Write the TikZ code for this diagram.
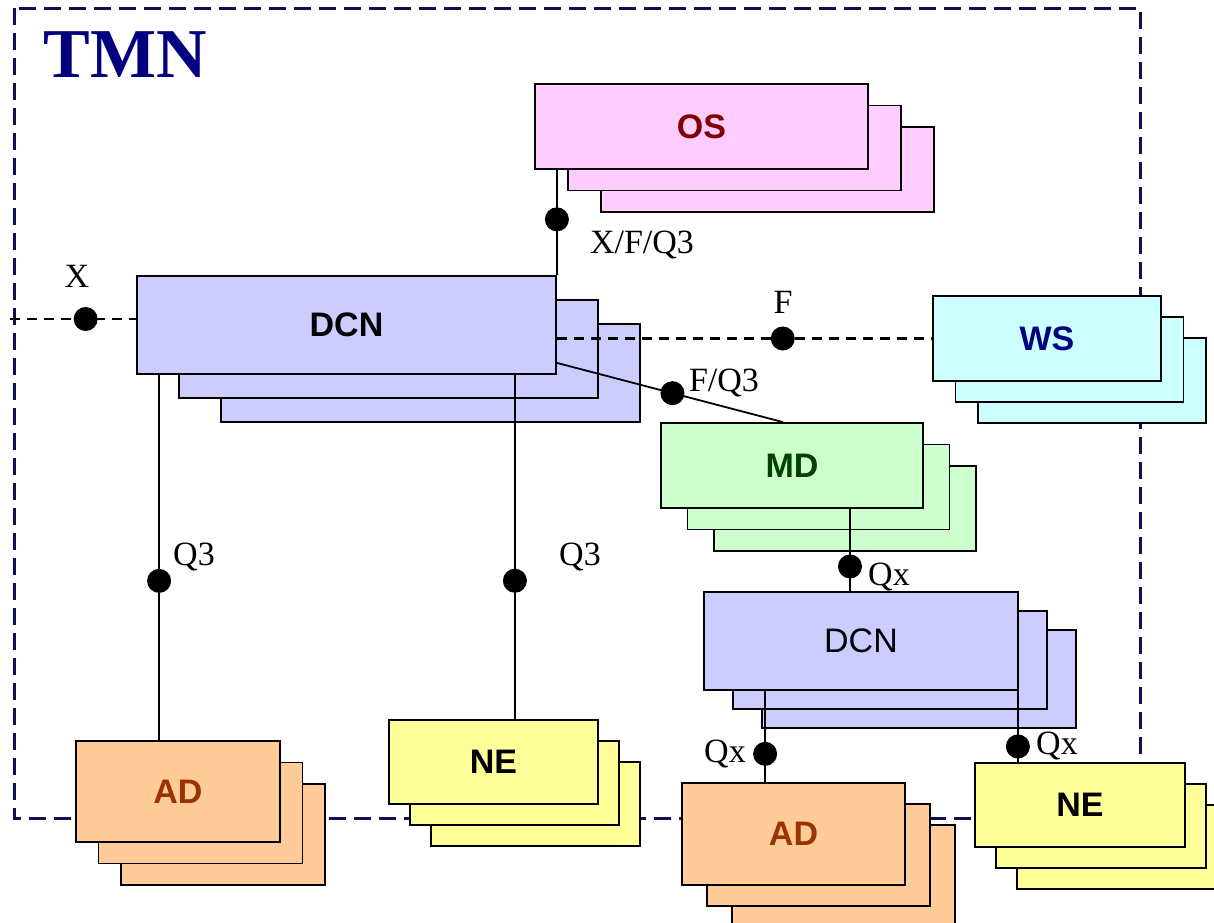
\documentclass[tikz,border=0pt]{standalone}
\usepackage{fontspec}
\setmainfont{Liberation Serif}
\setsansfont{Liberation Sans}
\usetikzlibrary{positioning}

\definecolor{framenavy}{RGB}{16,16,80}
\definecolor{tmnnavy}{RGB}{0,0,128}
\definecolor{osfill}{RGB}{255,204,255}
\definecolor{ostext}{RGB}{128,0,0}
\definecolor{dcnfill}{RGB}{204,204,255}
\definecolor{wsfill}{RGB}{204,255,255}
\definecolor{wstext}{RGB}{0,0,128}
\definecolor{mdfill}{RGB}{204,255,204}
\definecolor{mdtext}{RGB}{0,64,0}
\definecolor{adfill}{RGB}{255,204,153}
\definecolor{adtext}{RGB}{153,51,0}
\definecolor{nefill}{RGB}{255,255,153}

\begin{document}
\begin{tikzpicture}[
  x=1pt, y=-1pt,
  card/.style n args={3}{draw, line width=1.8pt, inner sep=0pt, fill=#1,
    minimum width=#2, minimum height=#3,
    font=\sffamily\bfseries\fontsize{34}{38}\selectfont},
  lbl/.style={inner sep=0pt, font=\fontsize{34}{36}\selectfont},
  dot/.style={circle, fill=black, inner sep=0pt, minimum size=24pt},
  link/.style={line width=1.8pt},
  dashlink/.style={line width=2.4pt, dash pattern=on 10pt off 7pt},
  frame/.style={draw=framenavy, line width=3pt, dash pattern=on 17pt off 8pt}
]
\useasboundingbox (0,0) rectangle (1214,922);

% TMN domain
\draw[frame] (14,8) rectangle (1140,818);
\node[text=tmnnavy, font=\bfseries\fontsize{70}{72}\selectfont] (tmn) at (125,55) {TMN};

% OS stack
\node[card={osfill}{333}{85}] (os3) at (767.5,169.5) {};
\node[card={osfill}{333}{85}] (os2) at (734.5,148) {};
\node[card={osfill}{333}{85}, text=ostext] (os) at (701.5,126.5) {OS};

% DCN stack
\node[card={dcnfill}{419}{98}] (dcn3) at (430.5,373) {};
\node[card={dcnfill}{419}{98}] (dcn2) at (388.5,349) {};
\node[card={dcnfill}{419}{98}] (dcn) at (346.5,325) {DCN};

% WS stack
\node[card={wsfill}{228}{85}] (ws3) at (1092,380.5) {};
\node[card={wsfill}{228}{85}] (ws2) at (1069.5,359.5) {};
\node[card={wsfill}{228}{85}, text=wstext] (ws) at (1047,338.5) {WS};

% MD stack
\node[card={mdfill}{262}{85}] (md3) at (845,508.5) {};
\node[card={mdfill}{262}{85}] (md2) at (818.5,487) {};
\node[card={mdfill}{262}{85}, text=mdtext] (md) at (792,465.5) {MD};

% local DCN stack
\node[card={dcnfill}{314}{98}] (ldcn3) at (919,679) {};
\node[card={dcnfill}{314}{98}] (ldcn2) at (890,660) {};
\node[card={dcnfill}{314}{98}, font=\sffamily\fontsize{34}{38}\selectfont] (ldcn) at (861,641) {DCN};

% AD / NE stacks
\node[card={adfill}{204}{101}] (ad3) at (223,834.5) {};
\node[card={adfill}{204}{101}] (ad2) at (200.5,813) {};
\node[card={adfill}{204}{101}, text=adtext] (ad) at (178,791.5) {AD};

\node[card={nefill}{209}{84}] (ne3) at (535.5,804) {};
\node[card={nefill}{209}{84}] (ne2) at (514.5,783) {};
\node[card={nefill}{209}{84}] (ne) at (493.5,762) {NE};

\node[card={adfill}{223}{102}] (lad3) at (843.5,876) {};
\node[card={adfill}{223}{102}] (lad2) at (818.5,855) {};
\node[card={adfill}{223}{102}, text=adtext] (lad) at (793.5,834) {AD};

\node[card={nefill}{210}{84}] (lne3) at (1122,847) {};
\node[card={nefill}{210}{84}] (lne2) at (1101,826) {};
\node[card={nefill}{210}{84}] (lne) at (1080,805) {NE};

% reference points
\coordinate (xin) at (10,319);

% connectors
\draw[link] (dcn.north east) -- (dcn.north east |- os.south) node[dot, pos=0.53] (dos) {};
\draw[dashlink] (xin) -- (xin -| dcn.west) node[dot, pos=0.6] (dx) {};
\draw[dashlink] (ws.west -| dcn.east) -- (ws.west) node[dot, pos=0.602] (dws) {};
\draw[link] ([yshift=12pt]dcn.south east) -- ([xshift=-9pt]md.north) node[dot, pos=0.511] (dmd) {};
\draw[link] ([xshift=58pt]md.south) coordinate (mdq) -- (mdq |- ldcn.north) node[dot, pos=0.7] (dldcn) {};
\draw[link] ([xshift=23pt]dcn.south west) coordinate (adq) -- (adq |- ad.north) node[dot, pos=0.564] (dad) {};
\draw[link] ([xshift=-42pt]dcn.south east) coordinate (neq) -- (neq |- ne.north) node[dot, pos=0.598] (dne) {};
\draw[link] ([xshift=62pt]ldcn.south west) coordinate (ladq) -- (ladq |- lad.north) node[dot, pos=0.69] (dlad) {};
\draw[link] ([xshift=-1pt]ldcn.south east) coordinate (lneq) -- (lneq |- lne.north) node[dot, pos=0.78] (dlne) {};

% interface labels
\node[lbl] (los) at (642,245) {X/F/Q3};
\node[lbl] (lx) at (77,276) {X};
\node[lbl] (lws) at (783,302) {F};
\node[lbl] (lmd) at (724,383) {F/Q3};
\node[lbl] (lldcn) at (889,577) {Qx};
\node[lbl] (lad) at (194,557) {Q3};
\node[lbl] (lne) at (580,557) {Q3};
\node[lbl] (llad) at (725,754) {Qx};
\node[lbl] (llne) at (1057,746) {Qx};
\end{tikzpicture}
\end{document}
